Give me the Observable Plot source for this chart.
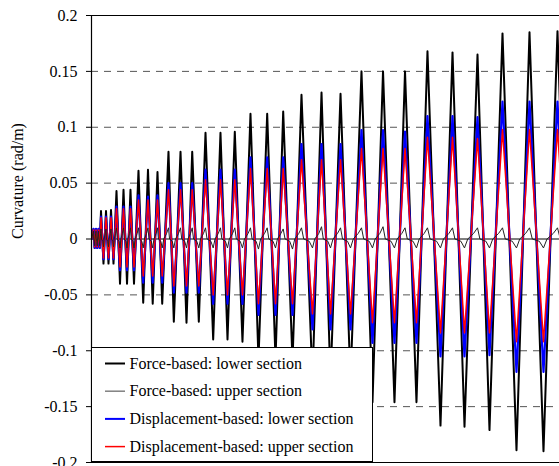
<!DOCTYPE html>
<html><head><meta charset="utf-8">
<script src="https://cdn.jsdelivr.net/npm/d3@7"></script>
<script src="https://cdn.jsdelivr.net/npm/@observablehq/plot@0.6"></script>
<style>html,body{margin:0;padding:0;background:#fff;} svg{display:block} svg text{font-family:"Liberation Serif","Times New Roman",serif !important;}</style>
</head><body><div id="chart"></div>
<script>
// Times of successive curvature peaks (alternating positive / negative), arbitrary time units
const peakTimes = [
  0.43, 0.68, 0.96, 1.22, 1.50, 1.75,
  2.03, 2.56, 3.10, 3.63, 4.17, 4.70,
  5.34, 6.09, 6.84, 7.59, 8.33, 9.08,
  10.04, 11.05, 12.07, 13.08, 14.10, 15.11,
  16.45, 17.59, 19.02, 20.30, 21.52, 22.93,
  24.36, 26.00, 27.56, 29.06, 30.62, 32.26,
  33.97, 35.68, 37.54, 39.32, 40.96, 42.95,
  44.87, 47.22, 49.15, 51.07, 53.21, 55.34,
  57.69, 60.04, 62.29, 64.74, 66.99, 69.44,
  71.79, 74.57, 77.14, 79.70, 82.48, 85.04,
  87.82, 90.81, 93.59, 96.58, 99.57, 102.56
];
// Force-based: lower section
const fbLower = [
  0.009, -0.008, 0.009, -0.008, 0.009, -0.008,
  0.025, -0.022, 0.025, -0.022, 0.026, -0.022,
  0.043, -0.040, 0.044, -0.040, 0.044, -0.040,
  0.061, -0.057, 0.062, -0.058, 0.060, -0.058,
  0.078, -0.074, 0.078, -0.075, 0.078, -0.074,
  0.095, -0.090, 0.095, -0.090, 0.096, -0.092,
  0.112, -0.108, 0.112, -0.108, 0.114, -0.109,
  0.129, -0.126, 0.131, -0.127, 0.130, -0.127,
  0.150, -0.146, 0.150, -0.146, 0.150, -0.146,
  0.168, -0.167, 0.167, -0.168, 0.165, -0.171,
  0.184, -0.189, 0.185, -0.190, 0.186, -0.190
];
// Force-based: upper section
const fbUpper = [
  0.007, -0.006, 0.007, -0.006, 0.007, -0.006,
  0.009, -0.007, 0.009, -0.007, 0.009, -0.007,
  0.010, -0.008, 0.010, -0.008, 0.010, -0.008,
  0.010, -0.008, 0.010, -0.008, 0.010, -0.008,
  0.010, -0.008, 0.010, -0.008, 0.010, -0.008,
  0.010, -0.008, 0.010, -0.008, 0.010, -0.008,
  0.010, -0.009, 0.010, -0.008, 0.009, -0.009,
  0.010, -0.008, 0.011, -0.008, 0.010, -0.008,
  0.010, -0.008, 0.011, -0.008, 0.010, -0.008,
  0.010, -0.008, 0.010, -0.008, 0.010, -0.008,
  0.010, -0.008, 0.010, -0.008, 0.010, -0.008
];
// Displacement-based: lower section
const dbLower = [
  0.009, -0.008, 0.009, -0.008, 0.009, -0.008,
  0.020, -0.018, 0.020, -0.018, 0.020, -0.018,
  0.029, -0.028, 0.029, -0.028, 0.029, -0.028,
  0.039, -0.039, 0.038, -0.039, 0.039, -0.039,
  0.050, -0.048, 0.050, -0.048, 0.050, -0.048,
  0.062, -0.058, 0.062, -0.058, 0.062, -0.058,
  0.073, -0.068, 0.073, -0.068, 0.073, -0.068,
  0.085, -0.081, 0.085, -0.081, 0.085, -0.081,
  0.0975, -0.093, 0.0975, -0.093, 0.096, -0.093,
  0.110, -0.105, 0.110, -0.105, 0.109, -0.104,
  0.123, -0.119, 0.123, -0.119, 0.123, -0.119
];
// Displacement-based: upper section
const dbUpper = [
  0.008, -0.007, 0.008, -0.007, 0.008, -0.007,
  0.019, -0.017, 0.019, -0.017, 0.019, -0.017,
  0.027, -0.025, 0.027, -0.025, 0.027, -0.025,
  0.035, -0.033, 0.035, -0.033, 0.035, -0.033,
  0.044, -0.042, 0.044, -0.042, 0.044, -0.042,
  0.053, -0.050, 0.053, -0.050, 0.053, -0.050,
  0.063, -0.058, 0.063, -0.058, 0.063, -0.058,
  0.071, -0.067, 0.071, -0.067, 0.071, -0.067,
  0.081, -0.075, 0.081, -0.075, 0.081, -0.075,
  0.091, -0.084, 0.091, -0.084, 0.090, -0.084,
  0.098, -0.092, 0.098, -0.092, 0.098, -0.092
];
// shape of the upper-section force-based wiggle between peaks: [phase, value]
const grayRise = [[0.25, 0.000], [0.7, 0.005]];
const grayFall = [[0.2, 0.000], [0.7, -0.002]];

const seriesNames = [
  "Force-based: lower section",
  "Force-based: upper section",
  "Displacement-based: lower section",
  "Displacement-based: upper section"
];
const seriesColors = ["#000000", "#808080", "#0000ff", "#ff0000"];
const yTicks = [0.2, 0.15, 0.1, 0.05, 0, -0.05, -0.1, -0.15, -0.2];
const gridVals = [0.15, 0.1, 0.05, -0.05, -0.1, -0.15];
const xDomain = [0, 100];
const yLabel = "Curvature (rad/m)";

function build(vals) {
  const out = [{t: 0, v: 0}];
  vals.forEach((v, i) => out.push({t: peakTimes[i], v}));
  return out;
}
function buildGray(vals) {
  const out = [{t: 0, v: 0}];
  vals.forEach((v, i) => {
    if (i > 0) {
      const t0 = peakTimes[i - 1], t1 = peakTimes[i];
      const tmpl = v > 0 ? grayRise : grayFall;
      tmpl.forEach(([p, w]) => out.push({t: t0 + p * (t1 - t0), v: w}));
    }
    out.push({t: peakTimes[i], v});
  });
  return out;
}
const rowsFL = build(fbLower);
const rowsFU = buildGray(fbUpper);
const rowsDL = build(dbLower);
const rowsDU = build(dbUpper);

const font = "Liberation Serif";
const chart = Plot.plot({
  width: 559, height: 466,
  marginLeft: 91, marginRight: 0, marginTop: 15, marginBottom: 4,
  x: {domain: xDomain, axis: null},
  y: {domain: [-0.2, 0.2], axis: null},
  style: {fontFamily: font, fontSize: "16px", background: "white", color: "black"},
  marks: [
    Plot.ruleY(gridVals, {stroke: "#555", strokeDasharray: "7,6", strokeWidth: 1}),
    Plot.ruleY([0], {stroke: "#000", strokeWidth: 1}),
    Plot.line(rowsFL, {x: "t", y: "v", stroke: seriesColors[0], strokeWidth: 2, clip: true}),
    Plot.line(rowsDL, {x: "t", y: "v", stroke: seriesColors[2], strokeWidth: 2.2, clip: true}),
    Plot.line(rowsDU, {x: "t", y: "v", stroke: seriesColors[3], strokeWidth: 1.5, clip: true}),
    Plot.line(rowsFU, {x: "t", y: "v", stroke: "#222", strokeWidth: 1, clip: true}),
    Plot.ruleY([0.2, -0.2], {stroke: "#000", strokeWidth: 1}),
    Plot.ruleX([xDomain[0]], {stroke: "#000", strokeWidth: 1.2}),
    Plot.axisY({ticks: yTicks, tickFormat: d => String(d), tickSize: 5, tickPadding: 9, fontSize: 16, fontFamily: font, label: null, stroke: "#000"}),
    Plot.text([yLabel], {frameAnchor: "left", rotate: -90, dx: -74, text: d => d, fontSize: 16, fontFamily: font, fill: "#000"})
  ]
});
document.getElementById("chart").appendChild(chart);

// inset legend
const svg = d3.select(chart);
const lg = svg.append("g").attr("text-anchor", "start");
lg.append("rect").attr("x", 91.5).attr("y", 347.5).attr("width", 281).attr("height", 114)
  .attr("fill", "#fff").attr("stroke", "#000").attr("stroke-width", 1);
const legendWidths = [2, 1.5, 2, 1.5];
seriesNames.forEach((name, i) => {
  const y = 363.5 + i * 27.7;
  lg.append("line").attr("x1", 105).attr("x2", 125).attr("y1", y).attr("y2", y)
    .attr("stroke", seriesColors[i]).attr("stroke-width", legendWidths[i]);
  lg.append("text").attr("x", 129.5).attr("y", y).attr("dy", "0.32em")
    .attr("text-anchor", "start")
    .attr("font-family", font).attr("font-size", 16).attr("fill", "#000").text(name);
});
</script>
</body></html>
